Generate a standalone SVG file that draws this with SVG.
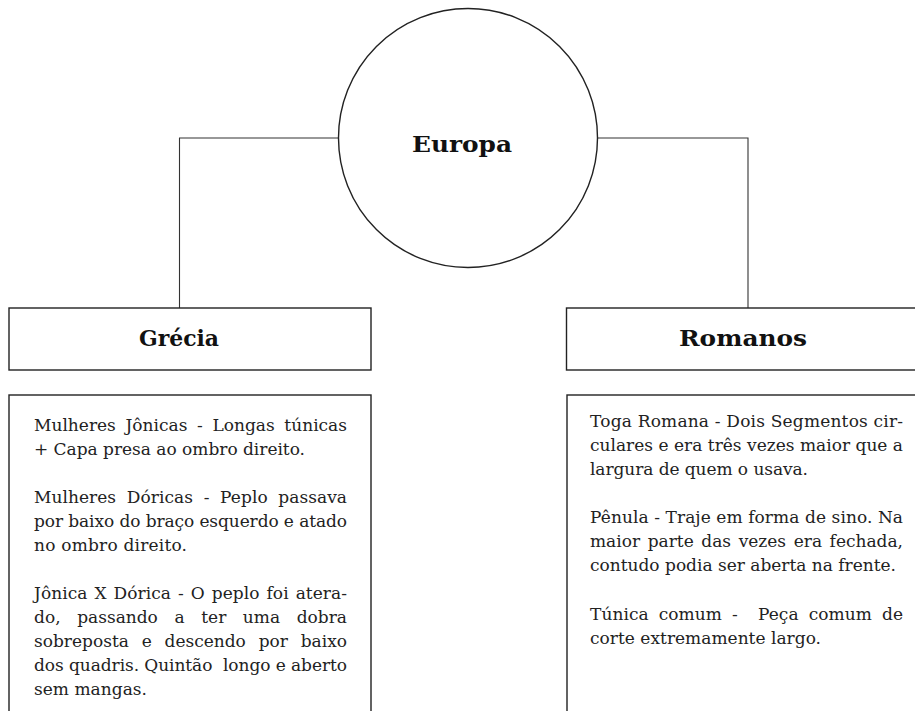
<svg xmlns="http://www.w3.org/2000/svg" width="915" height="711" viewBox="0 0 915 711">
<style>
.box{fill:#fff;stroke:#222;stroke-width:1.4}
.conn{fill:none;stroke:#333;stroke-width:1.1}
.h{font-family:"DejaVu Serif","Liberation Serif",serif;font-weight:bold;font-size:23px;fill:#111}
.t{font-family:"DejaVu Serif","Liberation Serif",serif;font-size:17px;fill:#222}
</style>
<rect width="915" height="711" fill="#fff"/>
<g id="connectors">
<path class="conn" d="M339,138 H179.5 V308"/>
<path class="conn" d="M597,138 H748 V308"/>
</g>
<g id="europa">
<circle class="box" cx="468" cy="138" r="129.5"/>
<text class="h" x="412" y="152" textLength="100" lengthAdjust="spacingAndGlyphs">Europa</text>
</g>
<g id="grecia">
<rect class="box" x="9" y="308" width="362" height="62"/>
<text class="h" x="139" y="346" textLength="80" lengthAdjust="spacingAndGlyphs">Grécia</text>
</g>
<g id="romanos">
<rect class="box" x="566.5" y="308" width="400" height="62"/>
<text class="h" x="679" y="346" textLength="128" lengthAdjust="spacingAndGlyphs">Romanos</text>
</g>
<g id="grecia-text">
<rect class="box" x="9" y="395" width="362" height="400"/>
<g class="t">
<text x="34" y="431" word-spacing="4.2" textLength="313" lengthAdjust="spacing">Mulheres Jônicas - Longas túnicas</text>
<text x="34" y="455" textLength="271" lengthAdjust="spacing">+ Capa presa ao ombro direito.</text>
<text x="34" y="503" word-spacing="5.2" textLength="313" lengthAdjust="spacing">Mulheres Dóricas - Peplo passava</text>
<text x="34" y="527" textLength="313" lengthAdjust="spacing">por baixo do braço esquerdo e atado</text>
<text x="34" y="551" textLength="153" lengthAdjust="spacing">no ombro direito.</text>
<text x="34" y="599" word-spacing="1.5" textLength="313" lengthAdjust="spacing">Jônica X Dórica - O peplo foi atera-</text>
<text x="34" y="623" word-spacing="11.2" textLength="313" lengthAdjust="spacing">do, passando a ter uma dobra</text>
<text x="34" y="647" word-spacing="7.4" textLength="313" lengthAdjust="spacing">sobreposta e descendo por baixo</text>
<text x="34" y="671" textLength="313" lengthAdjust="spacing" xml:space="preserve">dos quadris. Quintão  longo e aberto</text>
<text x="34" y="695" textLength="113" lengthAdjust="spacing">sem mangas.</text>
</g>
</g>
<g id="romanos-text">
<rect class="box" x="567" y="395" width="400" height="400"/>
<g class="t">
<text x="590" y="427" textLength="313" lengthAdjust="spacing">Toga Romana - Dois Segmentos cir-</text>
<text x="590" y="451" textLength="313" lengthAdjust="spacing">culares e era três vezes maior que a</text>
<text x="590" y="475" textLength="218" lengthAdjust="spacing">largura de quem o usava.</text>
<text x="590" y="523" textLength="313" lengthAdjust="spacing">Pênula - Traje em forma de sino. Na</text>
<text x="590" y="547" word-spacing="2.2" textLength="313" lengthAdjust="spacing">maior parte das vezes era fechada,</text>
<text x="590" y="571" textLength="306" lengthAdjust="spacing">contudo podia ser aberta na frente.</text>
<text x="590" y="620" word-spacing="4.6" textLength="313" lengthAdjust="spacing" xml:space="preserve">Túnica comum -  Peça comum de</text>
<text x="590" y="644" textLength="231" lengthAdjust="spacing">corte extremamente largo.</text>
</g>
</g>
</svg>
